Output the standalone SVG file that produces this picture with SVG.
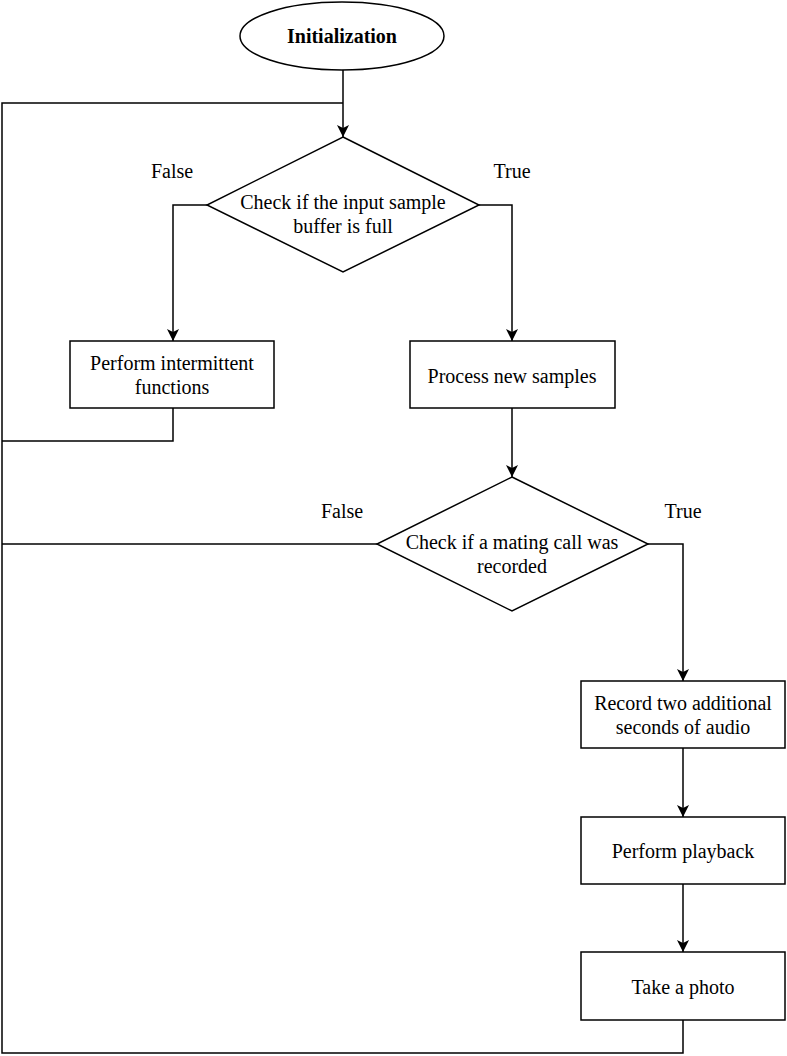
<svg xmlns="http://www.w3.org/2000/svg" width="787" height="1056" viewBox="0 0 787 1056">
<defs>
<style>
.s{fill:#fff;stroke:#000;stroke-width:1.5}
.c{fill:none;stroke:#000;stroke-width:1.5}
.t{font-family:"Liberation Serif","Times New Roman",serif;font-size:20px;fill:#000;text-anchor:middle}
.b{font-weight:bold}
</style>
<marker id="ah" viewBox="0 0 12 12" refX="12" refY="6" markerWidth="12" markerHeight="12" markerUnits="userSpaceOnUse" orient="auto">
<path d="M0,0 L12,6 L0,12 L3,6 Z" fill="#000"/>
</marker>
</defs>
<rect width="787" height="1056" fill="#fff"/>
<g id="connectors">
<path class="c" d="M343,69 V137" marker-end="url(#ah)"/>
<path class="c" d="M343,103 H2 V1053 H683 V1020"/>
<path class="c" d="M207,205 H173 V341" marker-end="url(#ah)"/>
<path class="c" d="M479,205 H512 V341" marker-end="url(#ah)"/>
<path class="c" d="M173,408 V441 H2"/>
<path class="c" d="M512,408 V477" marker-end="url(#ah)"/>
<path class="c" d="M377,544 H2"/>
<path class="c" d="M648,544 H683 V681" marker-end="url(#ah)"/>
<path class="c" d="M683,748 V817" marker-end="url(#ah)"/>
<path class="c" d="M683,884 V952" marker-end="url(#ah)"/>
</g>
<g id="labels">
<text class="t" x="172" y="178">False</text>
<text class="t" x="512" y="178">True</text>
<text class="t" x="342" y="518">False</text>
<text class="t" x="683" y="518">True</text>
</g>
<g id="init">
<ellipse class="s" cx="342" cy="36" rx="102" ry="34"/>
<text class="t b" x="342" y="43">Initialization</text>
</g>
<g id="check-buffer">
<polygon class="s" points="343,137 479,205 343,272 207,205"/>
<text class="t" x="343" y="209">Check if the input sample</text>
<text class="t" x="343" y="233">buffer is full</text>
</g>
<g id="intermittent">
<rect class="s" x="70" y="341" width="204" height="67"/>
<text class="t" x="172" y="370">Perform intermittent</text>
<text class="t" x="172" y="394">functions</text>
</g>
<g id="process">
<rect class="s" x="410" y="341" width="205" height="67"/>
<text class="t" x="512" y="383">Process new samples</text>
</g>
<g id="check-mating">
<polygon class="s" points="512,477 648,544 512,611 377,544"/>
<text class="t" x="512" y="549">Check if a mating call was</text>
<text class="t" x="512" y="573">recorded</text>
</g>
<g id="record">
<rect class="s" x="581" y="681" width="204" height="67"/>
<text class="t" x="683" y="710">Record two additional</text>
<text class="t" x="683" y="734">seconds of audio</text>
</g>
<g id="playback">
<rect class="s" x="581" y="817" width="204" height="67"/>
<text class="t" x="683" y="858">Perform playback</text>
</g>
<g id="photo">
<rect class="s" x="581" y="952" width="204" height="68"/>
<text class="t" x="683" y="994">Take a photo</text>
</g>
</svg>
